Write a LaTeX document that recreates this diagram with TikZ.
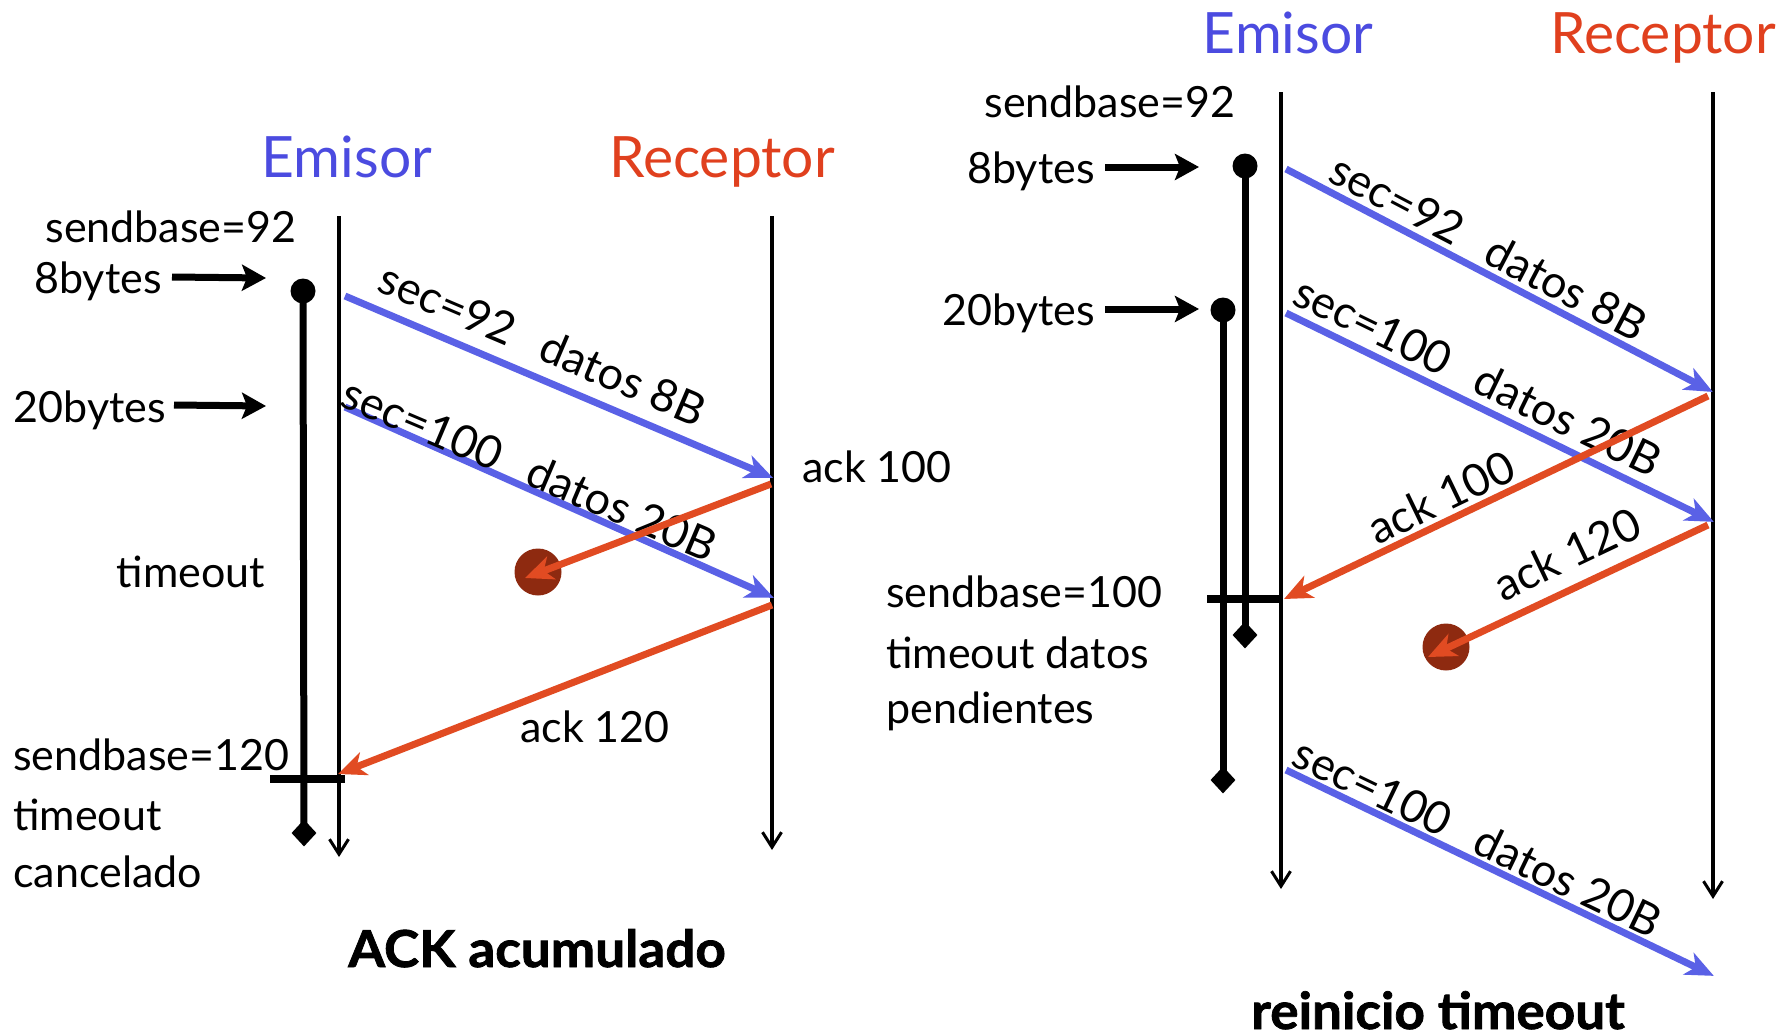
\documentclass[tikz,border=0pt]{standalone}
\usepackage{fontspec}
\setmainfont{Lato}
\newfontfamily\captfont{Lato}[BoldFeatures={FakeBold=1.5,FakeStretch=1.04}]
\usetikzlibrary{arrows.meta,shapes.geometric}
\definecolor{emblue}{HTML}{4B4BE0}
\definecolor{recred}{HTML}{E0401E}
\definecolor{segblue}{HTML}{5A61E6}
\definecolor{ackred}{HTML}{E14B22}
\definecolor{lostred}{HTML}{8E2A10}
\begin{document}
\begin{tikzpicture}[x=1pt,y=-1pt,
  lbl/.style={font=\fontsize{43}{50}\selectfont, inner sep=0pt},
  rlbl/.style={font=\fontsize{45}{52}\selectfont, inner sep=0pt},
  ttl/.style={font=\fontsize{57}{68}\selectfont, inner sep=0pt, anchor=base},
  capt/.style={font=\fontsize{51}{60}\captfont\bfseries, inner sep=0pt, anchor=base},
  timeline/.style={line width=4.5pt, -{Straight Barb[length=15pt,width=19pt,line width=3pt]}},
  seg/.style={draw=segblue, line width=7pt, -{Stealth[length=28pt,width=24pt,inset=8pt]}, shorten >=-2pt},
  ack/.style={draw=ackred, line width=7pt, -{Stealth[length=28pt,width=24pt,inset=8pt]}},
  inarrow/.style={line width=7pt, -{Stealth[length=24pt,width=26pt,inset=5pt]}},
  timerbar/.style={line width=7pt},
  crossbar/.style={line width=8pt},
  tdot/.style={circle, fill=black, minimum size=25pt, inner sep=0pt},
  tend/.style={diamond, fill=black, minimum width=25pt, minimum height=27pt, inner sep=0pt},
  lost/.style={circle, fill=lostred, minimum size=47pt, inner sep=0pt}
]
\useasboundingbox (0,0) rectangle (1791,1036);

%%%%%%%%%%%%%%%% LEFT: ACK acumulado
\node[ttl, text=emblue] (lem) at (347,177) {Emisor};
\node[ttl, text=recred] (lrc) at (722,177) {Receptor};

\coordinate (lEtop) at (339,216);
\coordinate (lEbot) at (339,857);
\coordinate (lRtop) at (772,216);
\coordinate (lRbot) at (772,850);
\draw[timeline] (lEtop) -- (lEbot);
\draw[timeline] (lRtop) -- (lRbot);

% timer
\node[tdot] (ld1) at (303,291) {};
\node[tend] (lm1) at (304,833) {};
\draw[timerbar] (ld1.center) -- (lm1.center);
\coordinate (lcbA) at (270,779);
\coordinate (lcbB) at (345,779);
\draw[crossbar] (lcbA) -- (lcbB);

% texts at left
\node[lbl, anchor=base] (lsb92) at (171,242) {sendbase=92};
\node[lbl, anchor=base] (l8b) at (98,293) {8bytes};
\node[lbl, anchor=base] (l20b) at (90,422) {20bytes};
\coordinate (l8bA) at (172,277);
\coordinate (l8bB) at (266,278);
\coordinate (l20bA) at (174,405);
\coordinate (l20bB) at (266,406);
\draw[inarrow] (l8bA) -- (l8bB);
\draw[inarrow] (l20bA) -- (l20bB);
\node[lbl, anchor=base] (lto) at (191,587) {timeout};
\node[lbl, anchor=base west] (lsb120) at (13,770) {sendbase=120};
\node[lbl, anchor=base west] (lto2) at (13,830) {timeout};
\node[lbl, anchor=base west] (lcan) at (13,887) {cancelado};

% segments
\coordinate (ls1) at (345,296);
\coordinate (lr1) at (771,477);
\coordinate (ls2) at (345,407);
\coordinate (lr2) at (772,597);
\draw[seg] (ls1) -- (lr1);
\draw[seg] (ls2) -- (lr2);
\node[rlbl, rotate=-23] (lt1) at (543,344) {sec=92\hspace{0.7em}datos 8B};
\node[rlbl, rotate=-23] (lt2) at (530,469) {sec=100\hspace{0.7em}datos 20B};

% acks
\node[lost] (llost) at (538,572) {};
\coordinate (la1) at (771,484);
\coordinate (la1end) at (525,578);
\draw[ack] (la1) -- (la1end);
\coordinate (la2) at (772,605);
\coordinate (la2end) at (338,774);
\draw[ack] (la2) -- (la2end);
\node[lbl, anchor=base west] (lack100) at (802,482) {ack 100};
\node[lbl, anchor=base] (lack120) at (595,742) {ack 120};

\node[capt] (lcap) at (537,967) {ACK acumulado};

%%%%%%%%%%%%%%%% RIGHT: reinicio timeout
\node[ttl, text=emblue] (rem) at (1288,53) {Emisor};
\node[ttl, text=recred] (rrc) at (1663,53) {Receptor};

\coordinate (rEtop) at (1281,92);
\coordinate (rEbot) at (1281,889);
\coordinate (rRtop) at (1713,92);
\coordinate (rRbot) at (1713,899);
\draw[timeline] (rEtop) -- (rEbot);
\draw[timeline] (rRtop) -- (rRbot);

% timers
\node[tdot] (rd1) at (1245,166) {};
\node[tend] (rm1) at (1245,635) {};
\draw[timerbar] (rd1.center) -- (rm1.center);
\node[tdot] (rd2) at (1223,310) {};
\node[tend] (rm2) at (1223,780) {};
\draw[timerbar] (rd2.center) -- (rm2.center);
\coordinate (rcbA) at (1207,599);
\coordinate (rcbB) at (1282,599);
\draw[crossbar] (rcbA) -- (rcbB);

% texts
\node[lbl, anchor=base] (rsb92) at (1110,117) {sendbase=92};
\node[lbl, anchor=base] (r8b) at (1031,183) {8bytes};
\node[lbl, anchor=base] (r20b) at (1019,325) {20bytes};
\coordinate (r8bA) at (1105,167);
\coordinate (r8bB) at (1199,167);
\coordinate (r20bA) at (1105,309);
\coordinate (r20bB) at (1199,309);
\draw[inarrow] (r8bA) -- (r8bB);
\draw[inarrow] (r20bA) -- (r20bB);
\node[lbl, anchor=base west] (rsb100) at (886,607) {sendbase=100};
\node[lbl, anchor=base west] (rtod) at (886,668) {timeout datos};
\node[lbl, anchor=base west] (rpend) at (886,723) {pendientes};

% segments
\coordinate (rs1) at (1286,169);
\coordinate (rr1) at (1711,391);
\coordinate (rs2) at (1286,313);
\coordinate (rr2) at (1712,521);
\coordinate (rs3) at (1286,770);
\coordinate (rr3) at (1712,975);
\draw[seg] (rs1) -- (rr1);
\draw[seg] (rs2) -- (rr2);
\draw[seg] (rs3) -- (rr3);
\node[rlbl, rotate=-27.6] (rt1) at (1489,247) {sec=92\hspace{0.7em}datos 8B};
\node[rlbl, rotate=-25.9] (rt2) at (1478,376) {sec=100\hspace{0.7em}datos 20B};
\node[rlbl, rotate=-25.7] (rt3) at (1478,837) {sec=100\hspace{0.7em}datos 20B};

% acks
\coordinate (ra1) at (1708,396);
\coordinate (ra1end) at (1284,599);
\draw[ack] (ra1) -- (ra1end);
\node[lost] (rlost) at (1446,647) {};
\coordinate (ra2) at (1708,525);
\coordinate (ra2end) at (1428,657);
\draw[ack] (ra2) -- (ra2end);
\node[rlbl, rotate=25.7] (rack100) at (1441,497) {ack 100};
\node[rlbl, rotate=25.4] (rack120) at (1567,554) {ack 120};

\node[capt] (rcap) at (1438,1029) {reinicio timeout};
\end{tikzpicture}
\end{document}
